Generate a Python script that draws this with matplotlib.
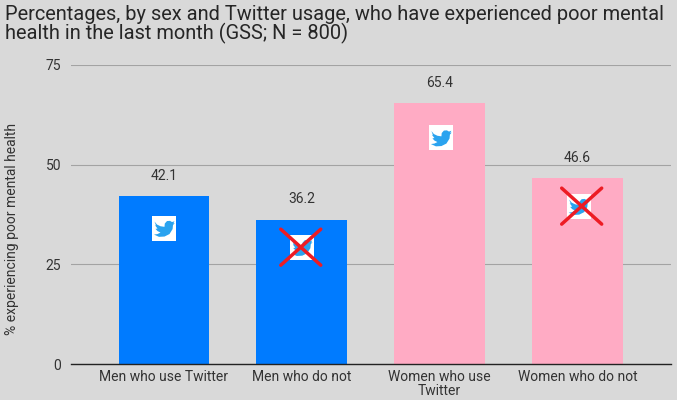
"""Poor mental health by sex and Twitter usage (GSS)."""
import matplotlib
matplotlib.use('Agg')
import matplotlib.pyplot as plt
from matplotlib.path import Path
from matplotlib.patches import PathPatch, Rectangle
from matplotlib.transforms import Affine2D

BG = '#d9d9d9'; BLUE = '#007bff'; PINK = '#ffabc4'; TXT = '#333333'
TWITTER = '#2aa3ef'; RED = '#ed1c24'; GRID = '#a3a3a3'
plt.rcParams['font.family'] = ['Roboto', 'DejaVu Sans']

title_lines = ['Percentages, by sex and Twitter usage, who have experienced poor mental',
               'health in the last month (GSS; N = 800)']
categories = ['Men who use Twitter', 'Men who do not', 'Women who use\nTwitter', 'Women who do not']
values = [42.1, 36.2, 65.4, 46.6]
bar_colors = [BLUE, BLUE, PINK, PINK]
y_ticks = [0, 25, 50, 75]
# icon centres in data units
icon_x = [0.0, 1.0, 2.01, 3.01]
icon_y = [34.1, 29.3, 56.8, 39.6]
crossed = [False, True, False, True]
cross_shift = [0, -1, 0, 3]  # px, the crosses sit a bit off the icons

W, H = 677, 400
fig = plt.figure(figsize=(W/100, H/100), dpi=100, facecolor=BG)
ax = fig.add_axes([71/W, (H-364)/H, 600/W, 299/H], facecolor=BG)

ax.bar(range(4), values, width=0.66, color=bar_colors, zorder=2)
ax.set_xlim(-0.675, 3.68); ax.set_ylim(0, 75)
ax.set_yticks(y_ticks)
ax.set_xticks(range(4)); ax.set_xticklabels(categories, linespacing=1.0)
ax.tick_params(axis='both', length=0, labelcolor=TXT, labelsize=10)
ax.tick_params(axis='x', pad=4.5)
ax.tick_params(axis='y', pad=7)
ax.grid(axis='y', color=GRID, lw=0.8, zorder=1)
for s in ['top', 'right', 'left']:
    ax.spines[s].set_visible(False)
ax.spines['bottom'].set_color('#222222'); ax.spines['bottom'].set_linewidth(1.0)
ax.spines['bottom'].set_zorder(5)

for i, v in enumerate(values):
    ax.annotate(f'{v}', (i, v), xytext=(0, 14.6), textcoords='offset points',
                ha='center', va='center', fontsize=10, color=TXT)

ax.set_ylabel('% experiencing poor mental health', fontsize=10, color=TXT, va='center')
ax.yaxis.set_label_coords((12-71)/600, (364-229)/299)

for line, base in zip(title_lines, [20, 39.5]):
    fig.text(5/W, 1-base/H, line, fontsize=14.45, color='#262626', ha='left', va='baseline')

# twitter bird outline, px relative to icon centre, y up
bird = [(-9.5, 6.5), (-7, 3.5), (-3.5, 1.8), (0.5, 1.2), (0.8, 4.5), (3, 7), (6, 7.2),
        (8, 6), (10.5, 6.8), (9.3, 4.6), (10.8, 5), (9, 3), (8.6, -1), (5.5, -6),
        (0.5, -8.5), (-5, -8.8), (-10, -6.5), (-6.5, -6), (-3.5, -4.5),
        (-6.5, -3), (-8.5, -0.8), (-6.5, -0.5), (-9, 2.8), (-8, 2.6)]
bird_path = Path(bird + [bird[0]], closed=True)

fig.canvas.draw()
for x, y, c, dx in zip(icon_x, icon_y, crossed, cross_shift):
    px, py = ax.transData.transform((x, y))
    tr = Affine2D().translate(px, py)
    ax.add_patch(Rectangle((-12, -12.5), 24, 25, fc='white', ec='none', transform=tr, zorder=3))
    ax.add_patch(PathPatch(bird_path, fc=TWITTER, ec='none', transform=tr, zorder=4))
    if c:
        ax.plot([dx-20, dx+20], [18, -18], color=RED, lw=2.5, transform=tr, zorder=5, solid_capstyle='round')
        ax.plot([dx-20, dx+20], [-18, 18], color=RED, lw=2.5, transform=tr, zorder=5, solid_capstyle='round')

fig.savefig('out.png', dpi=100, facecolor=BG)
